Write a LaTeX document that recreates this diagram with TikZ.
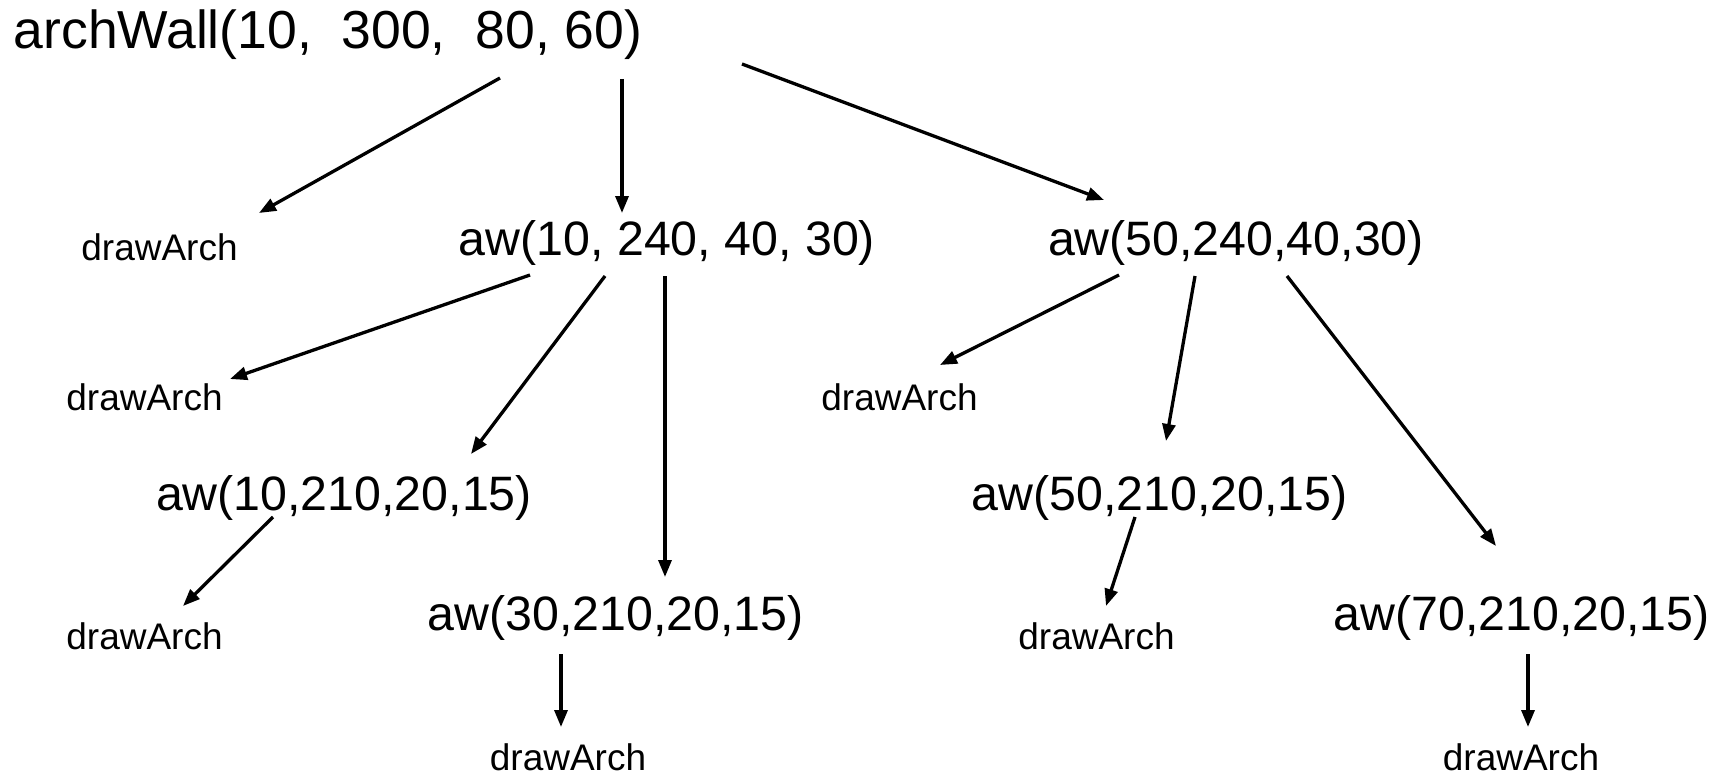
\documentclass[tikz,border=0pt]{standalone}
\usepackage{fontspec}
\setmainfont{Liberation Sans}
\usetikzlibrary{arrows.meta}
\tikzset{
  big/.style={inner sep=0pt, font=\fontsize{53.5}{60}\selectfont},
  mid/.style={inner sep=0pt, font=\fontsize{48.3}{56}\selectfont},
  small/.style={inner sep=0pt, font=\fontsize{37}{44}\selectfont},
  conn/.style={line width=3.3pt, -{Triangle[length=17pt,width=13pt]}}
}
\newcommand{\sh}[3]{([shift={(#1,#2)}]#3.center)}
\begin{document}
\begin{tikzpicture}[x=1pt,y=-1pt]
\useasboundingbox (0,0) rectangle (1719,776);
\node[big] (root) at (328,35) {archWall(10,~~300,~~80, 60)};
\node[small] (d1) at (159.5,247) {drawArch};
\node[mid] (aw1) at (667,243) {aw(10, 240, 40, 30)};
\node[mid] (aw2) at (1236,243) {aw(50,240,40,30)};
\node[small] (d2) at (144.5,397) {drawArch};
\node[small] (d3) at (899.5,397) {drawArch};
\node[mid] (aw3) at (344,498) {aw(10,210,20,15)};
\node[mid] (aw4) at (1159.5,498) {aw(50,210,20,15)};
\node[small] (d4) at (144.5,636) {drawArch};
\node[mid] (aw5) at (615.5,618) {aw(30,210,20,15)};
\node[small] (d5) at (1096.5,636) {drawArch};
\node[mid] (aw6) at (1521.5,618) {aw(70,210,20,15)};
\node[small] (d6) at (568,757) {drawArch};
\node[small] (d7) at (1521,757) {drawArch};

\draw[conn] \sh{172}{43}{root} -- \sh{99.5}{-34}{d1};
\draw[conn] \sh{294}{44}{root} -- \sh{-45}{-30}{aw1};
\draw[conn] \sh{414}{29}{root} -- \sh{-132}{-43}{aw2};
\draw[conn] \sh{-137}{32}{aw1} -- \sh{85.5}{-18}{d2};
\draw[conn] \sh{-62}{33}{aw1} -- \sh{127}{-44}{aw3};
\draw[conn] \sh{-2}{33}{aw1} -- \sh{49.5}{-41}{aw5};
\draw[conn] \sh{-117}{32}{aw2} -- \sh{40.5}{-32}{d3};
\draw[conn] \sh{-41}{33}{aw2} -- \sh{6.5}{-57}{aw4};
\draw[conn] \sh{51}{33}{aw2} -- \sh{-25.5}{-72}{aw6};
\draw[conn] \sh{-71}{19}{aw3} -- \sh{38.5}{-30}{d4};
\draw[conn] \sh{-54.5}{36}{aw5} -- \sh{-7}{-30}{d6};
\draw[conn] \sh{-24.5}{19}{aw4} -- \sh{9.5}{-30}{d5};
\draw[conn] \sh{6.5}{36}{aw6} -- \sh{7}{-30}{d7};
\end{tikzpicture}
\end{document}
